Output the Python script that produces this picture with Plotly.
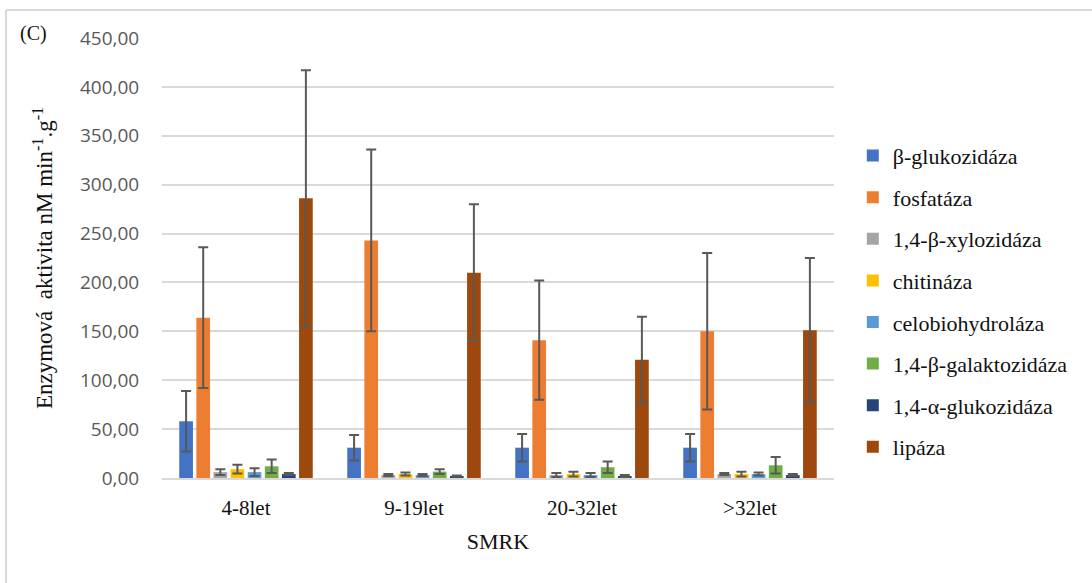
import plotly.graph_objects as go

categories = ["4-8let", "9-19let", "20-32let", ">32let"]

series_names = ["β-glukozidáza", "fosfatáza", "1,4-β-xylozidáza", "chitináza",
                "celobiohydroláza", "1,4-β-galaktozidáza", "1,4-α-glukozidáza", "lipáza"]

beta_glukozidaza = [58, 31, 31, 31]
beta_glukozidaza_err = [31, 13, 14, 14]
fosfataza = [164, 243, 141, 150]
fosfataza_err = [72, 93, 61, 80]
xylozidaza = [6, 3, 3, 4]
xylozidaza_err = [3, 1, 2, 1]
chitinaza = [9, 4, 4, 4]
chitinaza_err = [4.5, 1.5, 2.5, 2.5]
celobiohydrolaza = [6, 3, 3, 4]
celobiohydrolaza_err = [4, 1, 2, 1.5]
galaktozidaza = [12, 6.5, 11, 13]
galaktozidaza_err = [7, 2.5, 6, 8.5]
alfa_glukozidaza = [4, 2, 2, 3]
alfa_glukozidaza_err = [1, 0.5, 1, 1]
lipaza = [286, 210, 121, 151]
lipaza_err = [131, 70, 44, 74]

values = [beta_glukozidaza, fosfataza, xylozidaza, chitinaza,
          celobiohydrolaza, galaktozidaza, alfa_glukozidaza, lipaza]
errors = [beta_glukozidaza_err, fosfataza_err, xylozidaza_err, chitinaza_err,
          celobiohydrolaza_err, galaktozidaza_err, alfa_glukozidaza_err, lipaza_err]
colors = ["#4472C4", "#ED7D31", "#A5A5A5", "#FFC000",
          "#5B9BD5", "#70AD47", "#264478", "#9E480E"]

SERIF = "Liberation Serif"
TEXT = "#111111"

fig = go.Figure()
for name, v, e, c in zip(series_names, values, errors, colors):
    fig.add_trace(go.Bar(
        name=name, x=categories, y=v, marker_color=c, marker_line_width=0,
        legendgroup=name,
        error_y=dict(type="data", array=e, visible=True, color="#595959",
                     thickness=2, width=5),
    ))

fig.update_layout(
    width=1092, height=583,
    font=dict(family=SERIF, color=TEXT),
    margin=dict(l=162, r=258, t=38, b=105),
    paper_bgcolor="white", plot_bgcolor="white",
    barmode="group", bargap=0.185, bargroupgap=0.2,
    separators=", ",
    legend=dict(x=1.028, y=0.78, xanchor="left", yanchor="top",
                font=dict(family=SERIF, size=22, color=TEXT),
                tracegroupgap=10, itemwidth=30),
    xaxis=dict(
        showgrid=False, showline=True, linecolor="#D9D9D9", linewidth=2,
        ticks="outside", ticklen=10, tickcolor="rgba(0,0,0,0)",
        tickfont=dict(family=SERIF, size=21, color=TEXT),
        title=dict(text="SMRK", font=dict(family=SERIF, size=22, color=TEXT),
                   standoff=14),
    ),
    yaxis=dict(
        range=[0, 450], dtick=50, tickformat=".2f",
        showgrid=True, gridcolor="#D9D9D9", gridwidth=1.5,
        showline=False, zeroline=False,
        ticks="outside", ticklen=18, tickcolor="rgba(0,0,0,0)",
        tickfont=dict(family="Open Sans", size=19, color="#595959"),
        title=dict(text="Enzymová  aktivita nM min<sup>-1</sup>.g<sup>-1</sup>",
                   font=dict(family=SERIF, size=23, color=TEXT), standoff=20),
    ),
    shapes=[
        dict(type="line", xref="paper", yref="paper", x0=-0.2321, x1=2, y0=1.0636, y1=1.0636,
             line=dict(color="#D9D9D9", width=2)),
        dict(type="line", xref="paper", yref="paper", x0=-0.2321, x1=-0.2321, y0=1.0636, y1=-1,
             line=dict(color="#D9D9D9", width=2)),
    ],
    annotations=[
        dict(text="(C)", xref="paper", yref="paper", x=-0.1905, y=1.0105,
             xanchor="center", yanchor="middle", showarrow=False,
             font=dict(family=SERIF, size=20, color=TEXT)),
    ],
)

redraw_js = """
var gd = document.getElementById('{plot_id}');
if (document.fonts && document.fonts.load) {
  Promise.all([
    document.fonts.load('22px "Liberation Serif"'),
    document.fonts.load('19px "Open Sans"')
  ]).then(function () { return document.fonts.ready; })
    .then(function () { Plotly.newPlot(gd, gd.data, gd.layout); });
}
"""

fig.write_html("out.html", post_script=redraw_js)
